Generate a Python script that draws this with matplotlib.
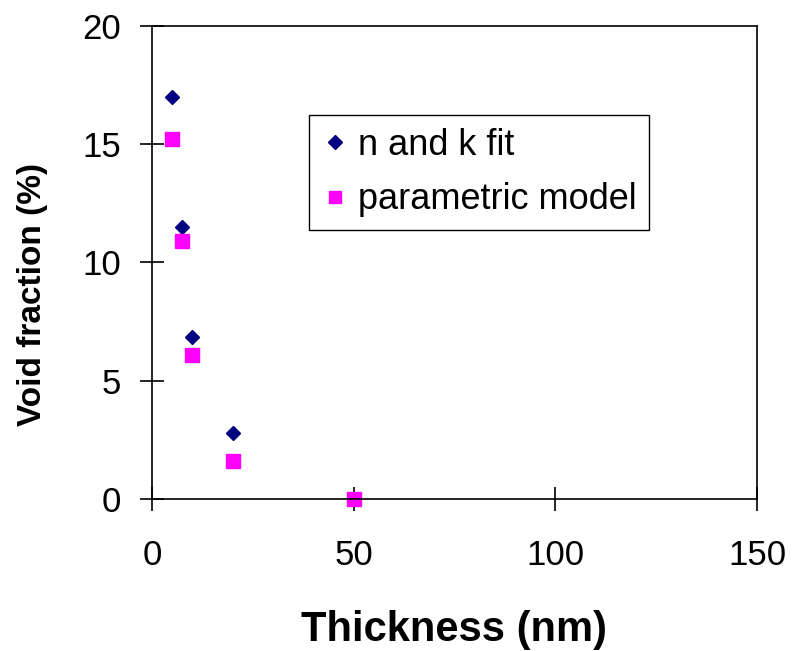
import matplotlib
matplotlib.use('Agg')
import matplotlib.pyplot as plt

plt.rcParams['font.family'] = ['Liberation Sans', 'DejaVu Sans']

# data
thickness = [5, 7.5, 10, 20, 50]
nk_fit = [17.0, 11.5, 6.85, 2.8, 0.0]
param_model = [15.2, 10.9, 6.1, 1.6, 0.0]

fig = plt.figure(figsize=(7.94, 6.51), dpi=100)
ax = fig.add_axes([0.1914, 0.2335, 0.762, 0.7266])

ax.plot(thickness, nk_fit, linestyle='none', marker='D', markersize=7.5,
        color='#000080', label='n and k fit', clip_on=False)
ax.plot(thickness, param_model, linestyle='none', marker='s', markersize=10,
        color='#ff00ff', label='parametric model', clip_on=False)

ax.set_xlim(0, 150)
ax.set_ylim(0, 20)
ax.set_xticks([0, 50, 100, 150])
ax.set_yticks([0, 5, 10, 15, 20])
ax.tick_params(direction='inout', length=17, width=1.2, labelsize=25)
ax.tick_params(axis='x', pad=20)
ax.tick_params(axis='y', pad=14)
for s in ax.spines.values():
    s.set_linewidth(1.2)

ax.set_xlabel('Thickness (nm)', fontsize=30, fontweight='bold', labelpad=28)
ax.set_ylabel('Void fraction (%)', fontsize=24, fontweight='bold')
ax.yaxis.set_label_coords(-0.172, 0.433)

leg = ax.legend(loc='upper left', bbox_to_anchor=(0.2595, 0.8118), borderaxespad=0,
                fontsize=26, fancybox=False, shadow=False, framealpha=1,
                handlelength=0.74, handletextpad=0.27, borderpad=0.35,
                labelspacing=0.55, markerscale=0.9)
leg.get_frame().set_edgecolor('black')
leg.get_frame().set_linewidth(1.0)

fig.savefig('out.png', dpi=100)
